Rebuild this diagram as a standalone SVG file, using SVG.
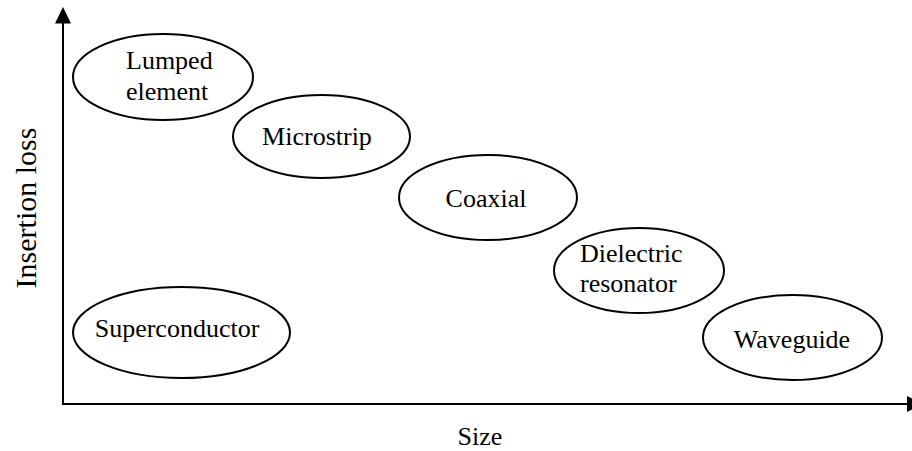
<svg xmlns="http://www.w3.org/2000/svg" width="912" height="451" viewBox="0 0 912 451">
<style>
.n ellipse{fill:#fff;stroke:#000;stroke-width:2}
.t{font-family:'Liberation Serif','Times New Roman',Times,serif;font-size:26px;fill:#000;text-anchor:middle}
.s{text-anchor:start}
.ax{stroke:#000;stroke-width:2;fill:none}
</style>
<rect width="912" height="451" fill="#fff"/>
<g id="axes">
<line class="ax" x1="63" y1="404" x2="63" y2="20"/>
<path d="M63,7 L55,23.5 L71,23.5 z" fill="#000"/>
<line class="ax" x1="62" y1="404" x2="908" y2="404"/>
<path d="M923,404 L907,396 L907,412 z" fill="#000"/>
</g>
<g id="lumped" class="n"><ellipse cx="163" cy="77" rx="90" ry="43"/><text class="t s" x="126" y="69">Lumped</text><text class="t s" x="126" y="100">element</text></g>
<g id="microstrip" class="n"><ellipse cx="321.5" cy="136.5" rx="88.5" ry="41.5"/><text class="t" x="317" y="145">Microstrip</text></g>
<g id="coaxial" class="n"><ellipse cx="488" cy="197.5" rx="89" ry="42.5"/><text class="t" x="486" y="207">Coaxial</text></g>
<g id="dielectric" class="n"><ellipse cx="639" cy="270.5" rx="85" ry="42.5"/><text class="t s" x="580" y="262">Dielectric</text><text class="t s" x="580" y="292">resonator</text></g>
<g id="waveguide" class="n"><ellipse cx="792.5" cy="337.5" rx="89.5" ry="42.5"/><text class="t" x="792" y="348">Waveguide</text></g>
<g id="superconductor" class="n"><ellipse cx="181.5" cy="332.5" rx="108.5" ry="45.5"/><text class="t" x="177" y="337">Superconductor</text></g>
<text class="t" x="480" y="445">Size</text>
<text class="t" style="font-size:30px" transform="translate(36,208) rotate(-90)" x="0" y="0">Insertion loss</text>
</svg>
